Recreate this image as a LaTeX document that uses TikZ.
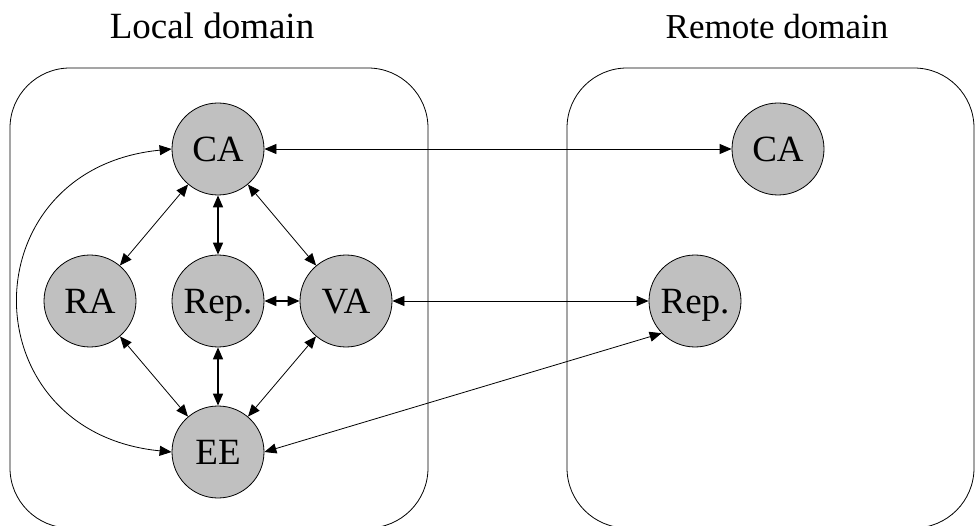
\documentclass[tikz,border=0pt]{standalone}
\usepackage{fontspec}
\setmainfont{Liberation Serif}
\usetikzlibrary{arrows.meta}
\definecolor{nodegray}{HTML}{C0C0C0}
\begin{document}
\begin{tikzpicture}[x=1pt,y=-1pt,
  ent/.style={circle, draw=black, line width=0.8pt, fill=nodegray, minimum size=92pt, inner sep=0pt,
    font=\fontsize{37}{40}\selectfont, text height=31pt, text depth=6.5pt},
  titletext/.style={anchor=base, inner sep=0pt, font=\fontsize{37}{40}\selectfont},
  domainbox/.style={draw=black, line width=0.8pt, rounded corners=60pt},
  link/.style={{Triangle[length=12pt,width=10pt]}-{Triangle[length=12pt,width=10pt]}, line width=0.8pt},
  thicklink/.style={link, line width=1.6pt}]
\useasboundingbox[fill=white] (0,0) rectangle (976,526);
% domains
\draw[domainbox] (10,68) rectangle (428,528);
\draw[domainbox] (567,68) rectangle (974,528);
\node[titletext] (lt) at (212,39) {Local domain};
\node[titletext, font=\fontsize{35}{38}\selectfont] (rt) at (777,39) {Remote domain};
% local nodes
\node[ent] (CA) at (218,149) {CA};
\node[ent] (RA) at (90,301) {RA};
\node[ent] (Rep) at (218,301) {Rep.};
\node[ent] (VA) at (346,301) {VA};
\node[ent] (EE) at (218,452) {EE};
% remote nodes
\node[ent] (rCA) at (778,149) {CA};
\node[ent] (rRep) at (695,301) {Rep.};
% local links
\draw[link] (CA) -- (RA);
\draw[link] (CA) -- (VA);
\draw[thicklink] (CA) -- (Rep);
\draw[thicklink] (Rep) -- (VA);
\draw[thicklink] (Rep) -- (EE);
\draw[link] (RA) -- (EE);
\draw[link] (VA) -- (EE);
\draw[link] (CA.west) .. controls +(-203,20) and +(-203,-20) .. (EE.west);
% inter-domain links
\draw[link] (CA) -- (rCA);
\draw[link] (VA) -- (rRep);
\draw[link] (EE.east) -- (rRep.224);
\end{tikzpicture}
\end{document}
